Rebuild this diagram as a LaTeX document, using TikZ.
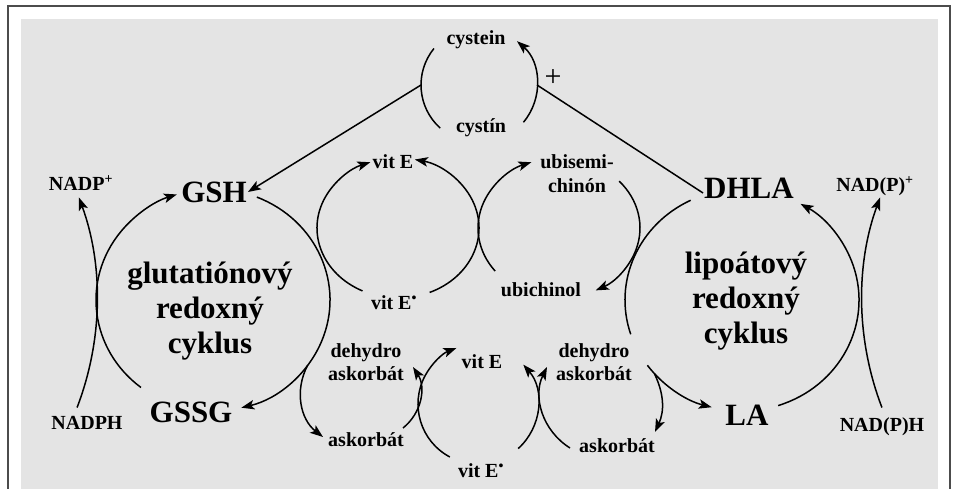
\documentclass[tikz,border=0pt]{standalone}
\usepackage{fontspec}
\setmainfont{Liberation Serif}
\usetikzlibrary{arrows.meta,calc}
\begin{document}
\begin{tikzpicture}[x=1pt,y=1pt,
  lbl/.style={font=\fontsize{20}{23}\selectfont\bfseries, inner sep=1pt, align=center},
  big/.style={font=\fontsize{31}{35}\selectfont\bfseries, inner sep=1pt, align=center},
  ln/.style={line width=1.5pt},
  arr/.style={line width=1.5pt, -{Stealth[length=13pt,width=9.5pt,inset=3pt]}}]
\clip (0,0) rectangle (955,488);
\fill[white] (0,0) rectangle (955,488);
\draw[line width=1.5pt, draw=black!70] (8,-20) rectangle (950,482);
\fill[black!10.5] (21,-20) rectangle (938,469);

% labels
\node[lbl] (cystein) at (476,448) {cystein};
\node[lbl] (cystin) at (481,360) {cystín};
\node[font=\fontsize{30}{30}\selectfont, inner sep=0pt] (plus) at (553,410) {+};
\node[lbl] (nadpp) at (81,305) {NADP\textsuperscript{+}};
\node[lbl] (nadph) at (87,65) {NADPH};
\node[big] (GSH) at (214,296) {GSH};
\node[big] (GSSG) at (191,76) {GSSG};
\node[big] (DHLA) at (749,300) {DHLA};
\node[big] (LA) at (747,73) {LA};
\node[lbl] (nadpplus) at (875,302) {NAD(P)\textsuperscript{+}};
\node[lbl] (nadpH) at (882,61) {NAD(P)H};
\node[big] (gcyc) at (210,177) {glutatiónový\\redoxný\\cyklus};
\node[big] (lcyc) at (746,187) {lipoátový\\redoxný\\cyklus};
\node[lbl] (vitE1) at (393,326) {vit E};
\node[lbl] (vitEr1) at (394,185) {vit E\textsuperscript{•}};
\node[lbl, font=\fontsize{20}{24}\selectfont\bfseries] (ubisemi) at (577,314) {ubisemi-\\chinón};
\node[lbl] (ubichinol) at (541,198) {ubichinol};
\node[lbl] (dL) at (366,125.5) {dehydro\\askorbát};
\node[lbl] (dR) at (594,125.5) {dehydro\\askorbát};
\node[lbl] (vitE2) at (482,126) {vit E};
\node[lbl] (aL) at (366,48) {askorbát};
\node[lbl] (aR) at (617,42) {askorbát};
\node[lbl] (vitEr2) at (481,17) {vit E\textsuperscript{•}};

% centres of the cycles
\coordinate (cc) at (479,403);
\coordinate (gc) at (213,188);
\coordinate (lc) at (742,188);
\coordinate (ec) at (398,260);
\coordinate (uc) at (559,260);
\coordinate (bc) at (478,84);
\coordinate (nl) at (-203,188);
\coordinate (nr) at (1162,188);

% cysteine cycle
\draw[ln] (cc) ++(141:58pt) arc[start angle=141,end angle=228,radius=58pt];
\draw[arr] (cc) ++(-40:58pt) arc[start angle=-40,end angle=49,radius=58pt];
\coordinate (cL) at ($(cc)+(180:58pt)$);
\coordinate (cR) at ($(cc)+(0:58pt)$);
\draw[arr] (cL) -- (GSH.east);
\draw[ln] (cR) -- ([yshift=-5pt]DHLA.west);

% glutathione cycle
\draw[arr] (gc) ++(232:117pt and 111pt) arc[start angle=232,end angle=108,x radius=117pt,y radius=111pt];
\draw[arr] (gc) ++(68:117pt and 111pt) arc[start angle=68,end angle=-76,x radius=117pt,y radius=111pt];
\draw[arr] (nl) ++(-21:300pt) arc[start angle=-21,end angle=20,radius=300pt];

% lipoate cycle
\draw[ln] (lc) ++(116:117pt and 111pt) arc[start angle=116,end angle=198,x radius=117pt,y radius=111pt];
\draw[arr] (lc) ++(216:117pt and 111pt) arc[start angle=216,end angle=255,x radius=117pt,y radius=111pt];
\draw[arr] (lc) ++(-72:117pt and 111pt) arc[start angle=-72,end angle=60,x radius=117pt,y radius=111pt];
\draw[arr] (nr) ++(201:300pt) arc[start angle=201,end angle=160,radius=300pt];

% vitamin E (upper)
\draw[arr] (ec) ++(244:81pt and 70pt) arc[start angle=244,end angle=110,x radius=81pt,y radius=70pt];
\draw[arr] (ec) ++(-67:81pt and 70pt) arc[start angle=-67,end angle=78,x radius=81pt,y radius=70pt];

% ubiquinone
\draw[arr] (uc) ++(218:81pt and 70pt) arc[start angle=218,end angle=110,x radius=81pt,y radius=70pt];
\draw[arr] (uc) ++(42:81pt and 70pt) arc[start angle=42,end angle=-63,x radius=81pt,y radius=70pt];

% vitamin E (lower)
\draw[arr] (bc) ++(242:60pt) arc[start angle=242,end angle=111,radius=60pt];
\draw[arr] (bc) ++(-48:60pt) arc[start angle=-48,end angle=41,radius=60pt];

% ascorbate
\coordinate (aL0) at ($(gc)+(-36:117pt and 111pt)$);
\coordinate (aL1) at (323,51);
\draw[arr] (aL0) to[bend right=40] (aL1);
\coordinate (aL2) at (403,60);
\coordinate (aL3) at (413,121);
\draw[arr] (aL2) to[bend right=42] (aL3);
\coordinate (aR2) at (570,40);
\coordinate (aR3) at (547,121);
\draw[arr] (aR2) to[bend left=42] (aR3);
\coordinate (aR0) at ($(lc)+(221.5:117pt and 111pt)$);
\coordinate (aR1) at (655,56);
\draw[arr] (aR0) to[bend left=25] (aR1);
\end{tikzpicture}
\end{document}
